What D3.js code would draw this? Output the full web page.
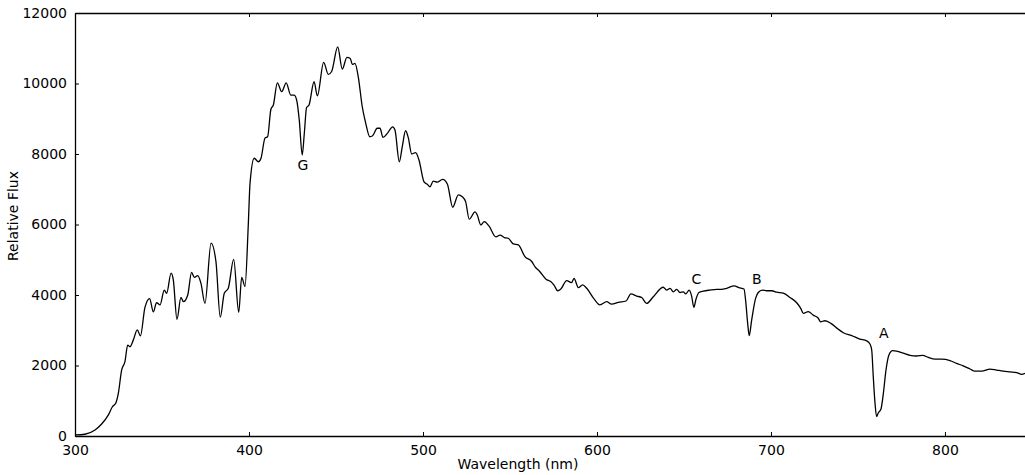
<!DOCTYPE html>
<html>
<head>
<meta charset="utf-8">
<script src="https://cdn.jsdelivr.net/npm/d3@7"></script>
<style>
  body { margin: 0; background: #fff; }
  svg text { font-family: "DejaVu Sans", sans-serif; font-size: 14px; fill: #000; }
</style>
</head>
<body>
<div id="chart"></div>
<script>
// spectrum
var wavelength = [
  300, 305.7, 311.5, 315.3, 319.2, 321.5, 323.4, 324.9, 326.8, 328.7,
  330.3, 331.6, 333.5, 335.8, 337.6, 340.2, 342.9, 345, 346.9, 348.9,
  351.3, 352.7, 355.2, 356.5, 358.6, 360.9, 362.3, 364.8, 367, 368.6,
  370.5, 372.4, 374.7, 378.2, 381, 383.5, 385.8, 388.1, 391.2, 394.1,
  395.8, 397.7, 399.6, 400.6, 403, 405.4, 406.9, 409.2, 410.7, 412.6,
  414, 416.3, 418.8, 421.4, 424, 426, 427.6, 428.9, 430.6, 431.8,
  433.1, 434.5, 437.4, 439.3, 442.9, 445.6, 447.5, 451, 453.6, 456.3,
  458.2, 459.4, 460.9, 462.8, 465.1, 467.1, 469.4, 470.9, 473.7, 475.3,
  477, 479.7, 482.6, 483.9, 486.4, 488.1, 490, 491.6, 493.5, 495.8,
  497.7, 500.6, 502.5, 504, 505.9, 508.2, 511.3, 514, 517.1, 520.3,
  522.6, 524.5, 526.6, 529.9, 531.2, 533.2, 535.2, 537.9, 541.9, 544.3,
  546.7, 549, 551.9, 554.8, 558.6, 562.5, 564.4, 567.2, 570.7, 573.4,
  575.3, 577.4, 579.1, 582.6, 585.4, 586.8, 589.3, 591.8, 594.1, 598.3,
  601.7, 605.6, 608.4, 612.3, 616.7, 619.5, 622.8, 625.7, 628.5, 632.4,
  638.1, 640, 642, 643.9, 645.8, 647.7, 649.6, 651, 653, 654.4,
  655.7, 656.9, 658.6, 661.1, 664.9, 668.8, 671.6, 674.5, 678.9, 681.6,
  684.5, 685.4, 686.6, 687.5, 688.9, 691.2, 692.7, 695, 697.5, 700.4,
  703.3, 707.1, 710.9, 714.8, 717.1, 718.6, 721.4, 724.3, 727.2, 728.5,
  731, 734.9, 738.7, 741.6, 746.4, 751.1, 755, 756.9, 757.9, 758.8,
  759.8, 760.7, 761.7, 763.2, 764.6, 766.1, 767.8, 769.9, 772.2, 776,
  779.9, 783.7, 787.2, 790.4, 794.3, 798.1, 802.9, 806.7, 810.5, 814.4,
  817.2, 821.1, 825.9, 829.7, 833.5, 837.4, 841.2, 844.1, 846
];
var flux = [
  30, 50, 170, 340, 600, 830, 930, 1210, 1870, 2110,
  2580, 2530, 2720, 3010, 2840, 3650, 3900, 3520, 3780, 3720,
  4140, 4050, 4620, 4430, 3310, 3930, 3810, 4000, 4640, 4500,
  4550, 4330, 3760, 5470, 4950, 3370, 4050, 4190, 5010, 3510,
  4500, 4240, 6000, 7170, 7880, 7780, 7880, 8450, 8490, 9270,
  9390, 10020, 9770, 10020, 9670, 9670, 9480, 8960, 7970, 8590,
  9320, 9390, 10050, 9650, 10600, 10260, 10340, 11040, 10410, 10740,
  10710, 10540, 10570, 10190, 9340, 8870, 8490, 8510, 8730, 8730,
  8470, 8600, 8770, 8680, 7780, 8210, 8660, 8450, 8000, 8040,
  7830, 7210, 7140, 7070, 7230, 7200, 7280, 7150, 6490, 6840,
  6790, 6650, 6150, 6360, 6270, 5990, 6080, 5960, 5650, 5700,
  5630, 5610, 5450, 5420, 5090, 4950, 4800, 4660, 4450, 4380,
  4280, 4120, 4160, 4410, 4350, 4470, 4210, 4290, 4190, 3890,
  3720, 3810, 3740, 3790, 3830, 4030, 3970, 3930, 3760, 3950,
  4220, 4140, 4190, 4090, 4160, 4070, 4090, 4030, 4140, 3970,
  3650, 3880, 4070, 4110, 4140, 4160, 4160, 4190, 4260, 4210,
  4170, 3860, 3200, 2850, 3290, 3910, 4070, 4140, 4120, 4120,
  4080, 4050, 3930, 3780, 3620, 3480, 3530, 3430, 3340, 3240,
  3270, 3180, 3030, 2930, 2850, 2750, 2700, 2610, 2440, 1680,
  930, 550, 660, 760, 1210, 1870, 2300, 2420, 2410, 2350,
  2290, 2270, 2290, 2230, 2180, 2180, 2140, 2060, 1990, 1900,
  1840, 1840, 1900, 1870, 1840, 1820, 1800, 1750, 1780
];

var xTicks = [300, 400, 500, 600, 700, 800];
var yTicks = [0, 2000, 4000, 6000, 8000, 10000, 12000];

// absorption line labels
var lineNames = ["G", "C", "B", "A"];
var lineWl = [431, 657.1, 691.8, 764.8];
var lineFlux = [7560, 4300, 4300, 2790];

var width = 1025, height = 475;
var plotLeft = 75, plotRight = 1025, plotTop = 13, plotBottom = 436;

var svg = d3.select("#chart").append("svg")
  .attr("width", width)
  .attr("height", height);

var x = d3.scaleLinear().domain([300, 846]).range([plotLeft, plotRight]);
var y = d3.scaleLinear().domain([0, 12000]).range([plotBottom, plotTop]);

var data = wavelength.map((w, i) => ({w: w, f: flux[i]}));

var line = d3.line()
  .curve(d3.curveMonotoneX)
  .x(d => x(d.w))
  .y(d => y(d.f));

svg.append("path")
  .datum(data)
  .attr("d", line)
  .style("fill", "none")
  .style("stroke", "#000")
  .style("stroke-width", 1.3)
  .style("stroke-linejoin", "round");

// axes, ticks pointing inward like matplotlib classic
var fmt = d3.format("d");
var xAxis = d3.axisBottom(x).tickValues(xTicks).tickFormat(fmt).tickSizeInner(-4).tickSizeOuter(0).tickPadding(9);
var yAxis = d3.axisLeft(y).tickValues(yTicks).tickFormat(fmt).tickSizeInner(-4).tickSizeOuter(0).tickPadding(8);
var xTop = d3.axisTop(x).tickValues(xTicks).tickSizeInner(-4).tickSizeOuter(0).tickFormat("");

var gx = svg.append("g")
  .attr("transform", `translate(0, ${plotBottom})`)
  .call(xAxis);

var gy = svg.append("g")
  .attr("transform", `translate(${plotLeft}, 0)`)
  .call(yAxis);

var gt = svg.append("g")
  .attr("transform", `translate(0, ${plotTop})`)
  .call(xTop);

[gx, gy, gt].forEach(g => {
  g.select(".domain").attr("stroke", "#000").attr("stroke-width", 1.3);
  g.selectAll(".tick line").attr("stroke", "#000").attr("stroke-width", 1);
  g.selectAll(".tick text").style("font-size", "14px").style("font-family", "DejaVu Sans, sans-serif").attr("fill", "#000");
});

// annotations
svg.selectAll(".lbl")
  .data(lineNames)
  .enter()
  .append("text")
  .attr("class", "lbl")
  .attr("x", (d, i) => x(lineWl[i]))
  .attr("y", (d, i) => y(lineFlux[i]))
  .attr("text-anchor", "middle")
  .text(d => d);

svg.append("text")
  .attr("x", 518)
  .attr("y", 469)
  .attr("text-anchor", "middle")
  .text("Wavelength (nm)");

svg.append("text")
  .attr("transform", "translate(18, 216) rotate(-90)")
  .attr("text-anchor", "middle")
  .text("Relative Flux");
</script>
</body>
</html>
